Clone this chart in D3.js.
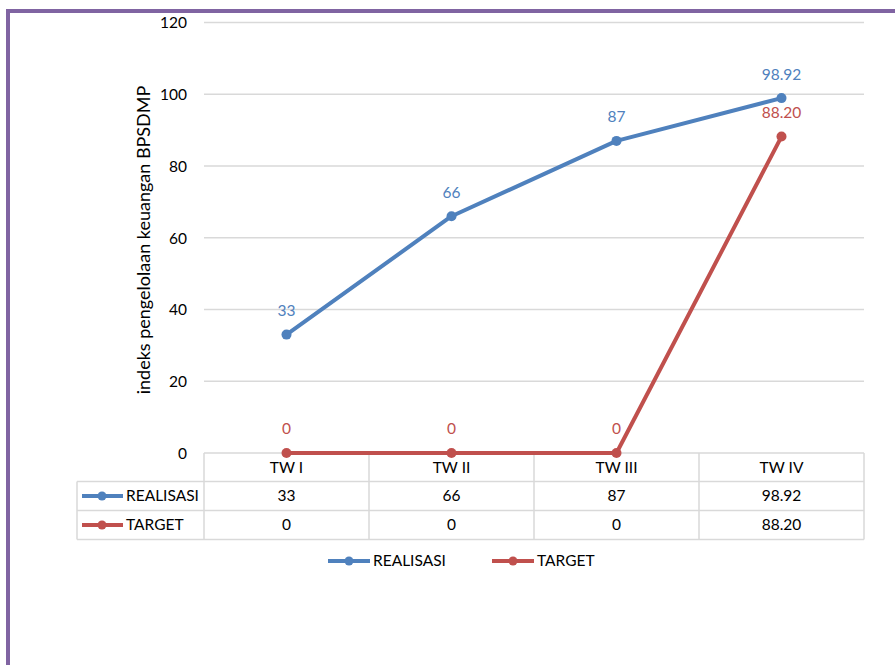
<!DOCTYPE html>
<html>
<head>
<meta charset="utf-8">
<script src="https://cdn.jsdelivr.net/npm/d3@7"></script>
<style>
  html, body { margin: 0; padding: 0; background: #fff; }
  svg { display: block; font-family: Lato, "Open Sans", sans-serif; }
</style>
</head>
<body>
<svg id="chart" width="895" height="665"></svg>
<script>
// ---- data ----
const categories = ["TW I", "TW II", "TW III", "TW IV"];
const realisasi = [33, 66, 87, 98.92];
const target = [0, 0, 0, 88.20];
const realisasiLabels = ["33", "66", "87", "98.92"];
const targetLabels = ["0", "0", "0", "88.20"];
const seriesNames = ["REALISASI", "TARGET"];
const yTicks = [0, 20, 40, 60, 80, 100, 120];
const yTitle = "indeks pengelolaan keuangan BPSDMP";

const colors = { REALISASI: "#4F81BD", TARGET: "#C0504D" };
const gridColor = "#d9d9d9";
const fs = 15.5;

const svg = d3.select("#chart");

// frame (purple border)
svg.append("path")
  .attr("d", "M8,665 L8,11 L895,11")
  .attr("fill", "none").attr("stroke", "#8064A2").attr("stroke-width", 4);

const x = d3.scaleBand().domain(categories).range([204, 864]).padding(0);
const y = d3.scaleLinear().domain([0, 120]).range([453, 22.5]);

// gridlines
svg.append("g").selectAll("line").data(yTicks.filter(d => d > 0)).join("line")
  .attr("x1", 204).attr("x2", 864)
  .attr("y1", d => y(d)).attr("y2", d => y(d))
  .attr("stroke", gridColor).attr("stroke-width", 1.5);

// y axis tick labels
const yAxis = d3.axisLeft(y).tickValues(yTicks).tickSize(0).tickPadding(0);
const yg = svg.append("g").attr("transform", "translate(187,0)").call(yAxis);
yg.select(".domain").remove();
yg.selectAll("text").attr("font-family", "Lato, sans-serif").attr("font-size", fs).attr("fill", "#000").attr("dy", "0.35em");

// y title
svg.append("text")
  .attr("transform", `translate(150,${(83 + 397) / 2}) rotate(-90)`)
  .attr("text-anchor", "middle")
  .attr("font-size", 18)
  .attr("fill", "#000")
  .text(yTitle);

// ---- data table ----
const rowTop = [453, 481.5, 510.5];
const rowBot = 539.5;
const tbl = svg.append("g").attr("stroke", gridColor).attr("stroke-width", 1.5);
// horizontal lines
tbl.append("line").attr("x1", 204).attr("x2", 864).attr("y1", 453).attr("y2", 453);
[481.5, 510.5, 539.5].forEach(yy => {
  tbl.append("line").attr("x1", 77).attr("x2", 864).attr("y1", yy).attr("y2", yy);
});
// vertical lines
const xBounds = [204].concat(categories.map(c => x(c) + x.bandwidth()));
xBounds.forEach(xx => {
  tbl.append("line").attr("x1", xx).attr("x2", xx).attr("y1", 453).attr("y2", rowBot);
});
tbl.append("line").attr("x1", 77).attr("x2", 77).attr("y1", 481.5).attr("y2", rowBot);

// header text
svg.append("g").selectAll("text").data(categories).join("text")
  .attr("x", d => x(d) + x.bandwidth() / 2)
  .attr("y", (rowTop[0] + rowTop[1]) / 2)
  .attr("dy", "0.35em").attr("text-anchor", "middle")
  .attr("font-size", fs).attr("fill", "#000")
  .text(d => d);

const tableRows = [
  { name: seriesNames[0], labels: realisasiLabels, top: rowTop[1], bot: rowTop[2] },
  { name: seriesNames[1], labels: targetLabels, top: rowTop[2], bot: rowBot }
];
tableRows.forEach(r => {
  const cy = (r.top + r.bot) / 2;
  const g = svg.append("g");
  g.selectAll("text").data(r.labels).join("text")
    .attr("x", (d, i) => x(categories[i]) + x.bandwidth() / 2)
    .attr("y", cy).attr("dy", "0.35em").attr("text-anchor", "middle")
    .attr("font-size", fs).attr("fill", "#000")
    .text(d => d);
  // legend key
  g.append("line").attr("x1", 82).attr("x2", 123).attr("y1", cy).attr("y2", cy)
    .attr("stroke", colors[r.name]).attr("stroke-width", 4);
  g.append("circle").attr("cx", 102).attr("cy", cy).attr("r", 4.5).attr("fill", colors[r.name]);
  g.append("text").attr("x", 126).attr("y", cy).attr("dy", "0.35em")
    .attr("font-size", fs).attr("fill", "#000").text(r.name);
});

// ---- lines ----
const series = [
  { name: seriesNames[0], values: realisasi, labels: realisasiLabels },
  { name: seriesNames[1], values: target, labels: targetLabels }
];
const line = d3.line()
  .x((d, i) => x(categories[i]) + x.bandwidth() / 2)
  .y(d => y(d));

series.forEach(s => {
  const g = svg.append("g");
  g.append("path").datum(s.values)
    .attr("d", line).attr("fill", "none")
    .attr("stroke", colors[s.name]).attr("stroke-width", 4)
    .attr("stroke-linejoin", "round").attr("stroke-linecap", "round");
  g.selectAll("circle").data(s.values).join("circle")
    .attr("cx", (d, i) => x(categories[i]) + x.bandwidth() / 2)
    .attr("cy", d => y(d)).attr("r", 5).attr("fill", colors[s.name]);
  g.selectAll("text").data(s.values).join("text")
    .attr("x", (d, i) => x(categories[i]) + x.bandwidth() / 2)
    .attr("y", d => y(d) - 24).attr("dy", "0.35em")
    .attr("text-anchor", "middle").attr("font-size", fs)
    .attr("fill", colors[s.name])
    .text((d, i) => s.labels[i]);
});

// ---- bottom legend ----
const legendItems = [
  { name: seriesNames[0], x0: 328 },
  { name: seriesNames[1], x0: 492 }
];
const lg = svg.append("g");
legendItems.forEach(it => {
  const cy = 561;
  lg.append("line").attr("x1", it.x0).attr("x2", it.x0 + 42).attr("y1", cy).attr("y2", cy)
    .attr("stroke", colors[it.name]).attr("stroke-width", 4);
  lg.append("circle").attr("cx", it.x0 + 21).attr("cy", cy).attr("r", 4.5).attr("fill", colors[it.name]);
  lg.append("text").attr("x", it.x0 + 45).attr("y", cy).attr("dy", "0.35em")
    .attr("font-size", fs).attr("fill", "#000").text(it.name);
});
</script>
</body>
</html>
